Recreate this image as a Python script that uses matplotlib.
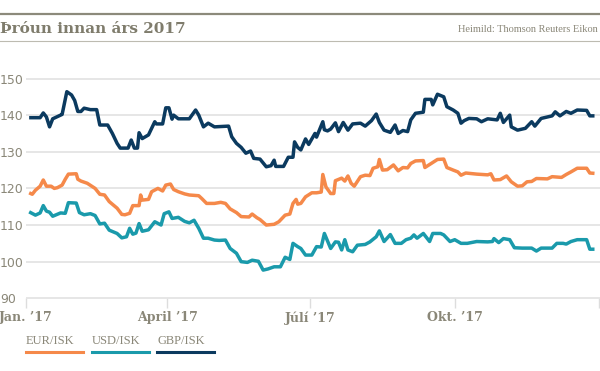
import matplotlib
matplotlib.use("Agg")
import matplotlib.pyplot as plt
from matplotlib.lines import Line2D

# gengi gagnvart krónu, dagur ársins 2017 (0 = 1. jan)
eur_days = [2, 4, 6, 9, 11, 13, 16, 18, 20, 23, 25, 27, 32, 33, 35, 39, 44, 47, 50, 53,
            58, 61, 63, 66, 68, 72, 73, 74, 78, 80, 84, 87, 89, 92, 94, 97, 101, 104, 110, 112,
            115, 120, 124, 127, 130, 134, 137, 142, 144, 147, 149, 153, 158, 161, 165, 168, 170, 172, 173, 175,
            178, 182, 185, 188, 189, 191, 194, 196, 197, 201, 203, 205, 207, 209, 213, 216, 219, 221, 224, 225,
            227, 230, 234, 237, 240, 243, 245, 248, 253, 254, 258, 262, 266, 268, 272, 275, 277, 280, 287, 294,
            296, 298, 302, 306, 309, 313, 316, 319, 322, 325, 332, 335, 341, 344, 347, 351, 357, 359, 362]
eur_vals = [118.8, 118.4, 119.5, 120.6, 122.3, 120.6, 120.6, 120.0, 120.2, 120.9, 122.5, 123.9, 124.0, 122.5, 122.0, 121.4, 120.0, 118.4, 118.2, 116.4,
            114.6, 112.9, 112.8, 113.2, 115.3, 115.3, 118.2, 116.8, 117.0, 119.1, 120.0, 119.3, 120.9, 121.2, 119.7, 119.1, 118.5, 118.2, 118.0, 117.2,
            115.9, 115.9, 116.2, 115.9, 114.4, 113.4, 112.3, 112.2, 113.0, 112.0, 111.5, 110.0, 110.2, 110.9, 112.7, 113.0, 115.9, 117.0, 115.7, 115.9,
            117.7, 118.8, 118.8, 119.0, 123.8, 120.4, 118.6, 118.6, 122.1, 122.8, 122.0, 123.4, 121.4, 120.6, 123.2, 123.6, 123.5, 125.5, 125.9, 127.9,
            125.0, 125.1, 126.4, 124.8, 125.7, 125.6, 126.8, 127.5, 127.6, 125.7, 126.8, 127.9, 128.0, 125.7, 125.0, 124.5, 123.6, 124.2, 123.9, 123.7,
            124.0, 122.3, 122.4, 123.4, 121.8, 120.6, 120.7, 121.8, 121.9, 122.7, 122.6, 123.2, 123.0, 123.8, 124.5, 125.5, 125.5, 124.2, 124.1]

usd_days = [2, 6, 9, 11, 13, 15, 17, 22, 25, 27, 32, 34, 37, 41, 44, 47, 50, 53, 58, 61,
            64, 66, 68, 70, 72, 74, 78, 82, 86, 88, 91, 93, 97, 101, 104, 107, 110, 113, 116, 120,
            123, 127, 130, 134, 137, 141, 144, 148, 151, 154, 158, 162, 165, 168, 170, 173, 175, 178, 182, 185,
            188, 190, 194, 197, 199, 201, 203, 205, 208, 211, 216, 219, 223, 225, 228, 232, 235, 239, 242, 245,
            247, 249, 253, 257, 259, 264, 266, 270, 273, 277, 281, 287, 294, 297, 298, 301, 304, 308, 311, 316,
            322, 325, 328, 335, 338, 342, 344, 347, 351, 357, 359, 362]
usd_vals = [113.6, 112.7, 113.3, 115.3, 113.8, 113.5, 112.4, 113.3, 113.2, 116.1, 116.0, 113.4, 112.8, 113.1, 112.6, 110.3, 110.5, 108.6, 107.7, 106.5,
            106.8, 109.1, 107.5, 107.8, 110.4, 108.3, 108.7, 110.9, 110.0, 113.1, 113.6, 111.8, 112.1, 111.0, 110.6, 111.3, 109.1, 106.4, 106.4, 105.9,
            105.8, 105.9, 103.6, 102.3, 100.0, 99.8, 100.4, 100.1, 97.7, 98.0, 98.6, 98.6, 101.2, 100.6, 105.0, 104.1, 103.6, 101.8, 101.8, 104.1,
            104.0, 107.7, 103.6, 105.4, 105.3, 103.2, 106.0, 103.2, 102.7, 104.5, 104.7, 105.4, 106.8, 108.4, 105.5, 107.4, 105.0, 105.0, 106.0, 106.4,
            107.3, 106.4, 107.7, 105.5, 107.7, 107.7, 107.3, 105.5, 106.0, 105.0, 105.0, 105.5, 105.4, 105.5, 106.3, 105.2, 106.3, 106.0, 103.8, 103.7,
            103.7, 102.9, 103.7, 103.7, 105.0, 105.0, 104.8, 105.5, 106.0, 106.0, 103.4, 103.4]

gbp_days = [2, 9, 11, 13, 15, 17, 22, 23, 26, 29, 31, 33, 35, 37, 41, 45, 47, 52, 55, 58,
            60, 65, 67, 69, 71, 72, 74, 78, 82, 83, 87, 89, 91, 93, 94, 97, 104, 108, 110, 113,
            116, 120, 129, 131, 134, 137, 140, 143, 145, 149, 153, 156, 158, 159, 164, 167, 170, 171, 173, 175,
            178, 180, 184, 185, 189, 190, 192, 194, 197, 199, 202, 205, 208, 213, 216, 220, 223, 225, 228, 232,
            235, 237, 240, 243, 245, 248, 253, 254, 258, 259, 262, 266, 268, 272, 275, 277, 279, 282, 287, 290,
            294, 300, 302, 304, 308, 309, 313, 318, 322, 324, 328, 335, 337, 340, 344, 347, 351, 357, 359, 362]
gbp_vals = [139.3, 139.3, 140.6, 139.5, 136.8, 139.0, 140.0, 140.2, 146.4, 145.5, 144.0, 141.0, 141.0, 141.9, 141.5, 141.5, 137.3, 137.3, 135.0, 132.3,
            131.0, 131.0, 133.2, 131.0, 131.0, 135.2, 133.6, 134.6, 138.2, 137.6, 137.6, 142.0, 142.0, 138.9, 140.0, 139.0, 139.0, 141.4, 140.0, 136.8,
            137.8, 136.8, 137.0, 134.1, 132.3, 131.2, 129.6, 130.2, 128.2, 128.0, 125.9, 126.2, 127.7, 126.0, 126.0, 128.5, 128.5, 132.7, 131.2, 130.5,
            133.5, 132.0, 135.0, 134.0, 138.2, 136.0, 135.7, 136.2, 137.9, 135.5, 138.0, 135.9, 137.6, 137.8, 137.0, 138.5, 140.3, 138.0, 135.9, 135.3,
            137.3, 135.0, 135.8, 135.5, 138.7, 140.5, 140.8, 144.3, 144.3, 142.8, 145.7, 145.0, 142.3, 141.4, 140.5, 137.8, 138.5, 139.1, 139.0, 138.2,
            139.0, 138.7, 140.5, 138.0, 140.0, 136.8, 135.9, 136.4, 138.2, 137.0, 139.1, 139.8, 140.9, 139.8, 141.0, 140.5, 141.4, 141.3, 139.8, 139.8]

series = [("EUR/ISK", eur_days, eur_vals, "#f5894a"),
          ("USD/ISK", usd_days, usd_vals, "#1a9aab"),
          ("GBP/ISK", gbp_days, gbp_vals, "#0b3a5f")]

month_ticks = [0, 90, 181, 273, 365]
month_labels = ["Jan. \u201917", "April \u201917", "J\u00fal\u00ed \u201917", "Okt. \u201917", ""]
y_ticks = [90, 100, 110, 120, 130, 140, 150]

W, H = 600, 371
grey = "#8a8778"

fig = plt.figure(figsize=(W / 100, H / 100), dpi=100)

# y: 150 -> 78.5 px, 90 -> 298.3 px
ppu = (298.3 - 78.5) / 60
ymin, ymax = 88, 152
top_px = 78.5 - (ymax - 150) * ppu
bot_px = 298.3 + (90 - ymin) * ppu
ax = fig.add_axes([26 / W, 1 - bot_px / H, (600 - 26) / W, (bot_px - top_px) / H])
ax.set_xlim(0, 365.5)
ax.set_ylim(ymin, ymax)

for name, d, v, c in series:
    ax.plot(d, v, color=c, lw=2.5, solid_joinstyle="round", solid_capstyle="butt", zorder=3)

for s in ax.spines.values():
    s.set_visible(False)
ax.spines["bottom"].set_position(("data", 90))

ax.set_yticks(y_ticks)
ax.yaxis.grid(True, color="#e4e4e4", lw=1.3, zorder=0)
ax.tick_params(axis="y", length=0, pad=18.7, labelsize=9, labelcolor=grey)
for lab in ax.get_yticklabels():
    lab.set_horizontalalignment("left")
    lab.set_family("DejaVu Sans")

ax.set_xticks(month_ticks)
ax.set_xticklabels(month_labels)
ax.tick_params(axis="x", direction="out", length=7.2, width=1, color="#dddddd",
               pad=2, labelsize=9, labelcolor=grey)
for lab in ax.get_xticklabels():
    lab.set_family("DejaVu Serif")
    lab.set_fontweight("bold")

# haus
fig.add_artist(Line2D([0, 1], [1 - 13.7 / H] * 2, color="#8c8a7b", lw=1.6))
fig.add_artist(Line2D([0, 1], [1 - 41 / H] * 2, color="#bdbbb1", lw=0.8))
fig.text(0, 1 - 33 / H, "\u00der\u00f3un innan \u00e1rs 2017", va="baseline", ha="left",
         fontsize=11, fontweight="bold", family="DejaVu Serif", color="#7f7c6c")
fig.text(598 / W, 1 - 32 / H, "Heimild: Thomson Reuters Eikon", va="baseline", ha="right",
         fontsize=7.5, family="Liberation Serif", color=grey)

# skýringar
leg_x = [26, 92, 157]
for (name, d, v, c), x0 in zip(series, leg_x):
    fig.add_artist(Line2D([x0 / W, (x0 + 57) / W], [1 - 352 / H] * 2, color=c, lw=2.2))
    fig.text(x0 / W, 1 - 341 / H, name, va="center", ha="left", fontsize=9,
             family="Liberation Serif", color=grey)

fig.savefig("out.png", dpi=100)
